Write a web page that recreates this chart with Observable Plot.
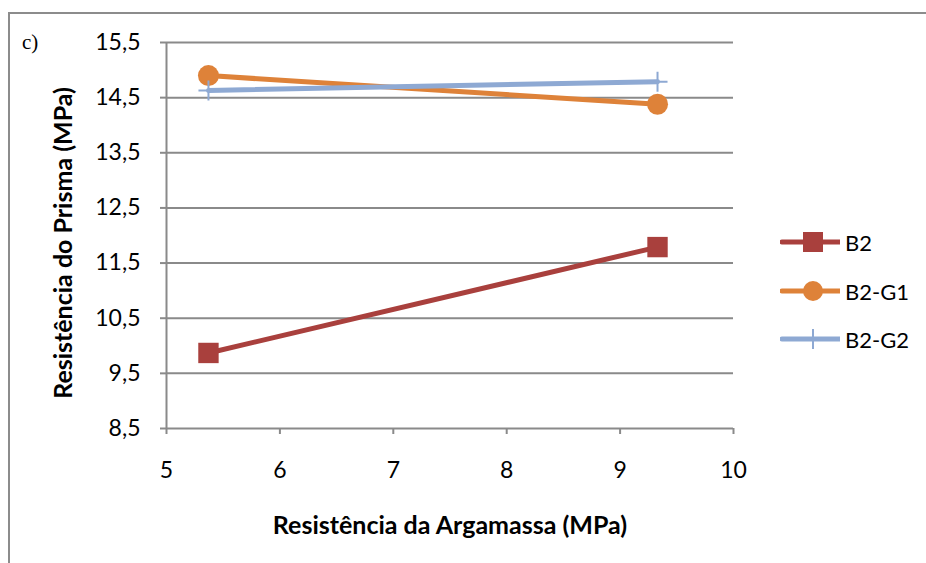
<!DOCTYPE html>
<html>
<head>
<meta charset="utf-8">
<script src="https://cdn.jsdelivr.net/npm/d3@7"></script>
<script src="https://cdn.jsdelivr.net/npm/@observablehq/plot@0.6"></script>
<style>
  html, body { margin: 0; padding: 0; background: #fff; }
  #wrap { position: relative; width: 926px; height: 563px; overflow: hidden; font-family: Lato, sans-serif; }
  #frame { position: absolute; left: 8px; top: 12px; width: 930px; height: 560px;
           border-top: 2px solid #8c8c8c; border-left: 2px solid #8c8c8c; box-sizing: border-box; }
  #tag { position: absolute; left: 22px; top: 29px; font-family: "Liberation Serif", serif; font-size: 21px; line-height: 26px; }
  #chart { position: absolute; left: 0; top: 0; }
  #legend { position: absolute; left: 780px; top: 0; }
  .item { position: absolute; left: 0; height: 30px; display: flex; align-items: center; white-space: nowrap; font-size: 22px; }
  .item svg { margin-right: 5px; }
  .title { position: absolute; font-weight: bold; font-size: 25px; line-height: 30px; white-space: nowrap; }
  #xtitle { left: 450px; top: 524px; transform: translate(-50%, -50%); }
  #ytitle { left: 62px; top: 243px; transform: translate(-50%, -50%) rotate(-90deg); }
</style>
</head>
<body>
<div id="wrap">
  <div id="frame"></div>
  <div id="tag">c)</div>
  <div id="chart"></div>
  <div id="legend"></div>
  <div id="xtitle" class="title"></div>
  <div id="ytitle" class="title"></div>
</div>
<script>
const xValues = [5.37, 9.33];
const b2 = [9.87, 11.79];
const b2g1 = [14.90, 14.38];
const b2g2 = [14.63, 14.79];
const seriesNames = ["B2", "B2-G1", "B2-G2"];
const seriesColors = ["#A9403D", "#DE8239", "#8EA9D3"];
const seriesSymbols = ["square", "circle", "plus"];
const yTicks = [8.5, 9.5, 10.5, 11.5, 12.5, 13.5, 14.5, 15.5];
const xTicks = [5, 6, 7, 8, 9, 10];
const xTitle = "Resistência da Argamassa (MPa)";
const yTitle = "Resistência do Prisma (MPa)";

const allSeries = [b2, b2g1, b2g2];
const data = [];
allSeries.forEach((vals, i) => vals.forEach((v, j) => data.push({series: seriesNames[i], x: xValues[j], y: v})));

const plusSymbol = {
  draw(ctx, size) {
    const s = Math.sqrt(size / Math.PI);
    ctx.moveTo(0, -s); ctx.lineTo(0, s);
    ctx.moveTo(-s, 0); ctx.lineTo(s, 0);
  }
};
const comma = d => d.toFixed(1).replace(".", ",");
const grid = "#8a8a8a";

const chart = Plot.plot({
  width: 926, height: 563,
  marginLeft: 166, marginRight: 193, marginTop: 42, marginBottom: 135,
  style: {fontFamily: "Lato, sans-serif", fontSize: "23px", color: "#000", background: "transparent", overflow: "visible"},
  x: {domain: [5, 10]},
  y: {domain: [8.5, 15.5]},
  color: {domain: seriesNames, range: seriesColors},
  marks: [
    Plot.ruleY(yTicks, {stroke: grid, strokeWidth: 2}),
    Plot.ruleX([xTicks[0]], {stroke: grid, strokeWidth: 2}),
    Plot.axisY({ticks: yTicks, tickFormat: comma, tickSize: 6, tickPadding: 20, stroke: grid, strokeWidth: 2, label: null}),
    Plot.axisX({ticks: xTicks, tickFormat: d => String(d), tickSize: 6, tickPadding: 27, stroke: grid, strokeWidth: 2, label: null}),
    Plot.line(data, {x: "x", y: "y", z: "series", stroke: "series", strokeWidth: 5}),
    Plot.dot(data.filter(d => d.series === "B2"), {x: "x", y: "y", symbol: "square", r: 11.5, fill: "series", stroke: "none"}),
    Plot.dot(data.filter(d => d.series === "B2-G1"), {x: "x", y: "y", symbol: "circle", r: 10.5, fill: "series", stroke: "none"}),
    Plot.dot(data.filter(d => d.series === "B2-G2"), {x: "x", y: "y", symbol: plusSymbol, r: 10, fill: "none", stroke: "series", strokeWidth: 2})
  ]
});
document.getElementById("chart").appendChild(chart);
document.getElementById("xtitle").textContent = xTitle;
document.getElementById("ytitle").textContent = yTitle;

// legend
const legend = d3.select("#legend");
const legendTops = [227, 276, 324];
seriesNames.forEach((name, i) => {
  const item = legend.append("div").attr("class", "item").style("top", legendTops[i] + "px");
  const svg = item.append("svg").attr("width", 60).attr("height", 30);
  svg.append("line").attr("x1", 2).attr("x2", 60).attr("y1", 15).attr("y2", 15)
    .attr("stroke", seriesColors[i]).attr("stroke-width", 5).attr("stroke-linecap", "round");
  if (seriesSymbols[i] === "square") {
    svg.append("rect").attr("x", 23).attr("y", 5).attr("width", 20).attr("height", 20).attr("fill", seriesColors[i]);
  } else if (seriesSymbols[i] === "circle") {
    svg.append("circle").attr("cx", 33).attr("cy", 15).attr("r", 10).attr("fill", seriesColors[i]);
  } else {
    svg.append("line").attr("x1", 33).attr("x2", 33).attr("y1", 5).attr("y2", 25)
      .attr("stroke", seriesColors[i]).attr("stroke-width", 2);
  }
  item.append("span").text(name);
});
</script>
</body>
</html>
